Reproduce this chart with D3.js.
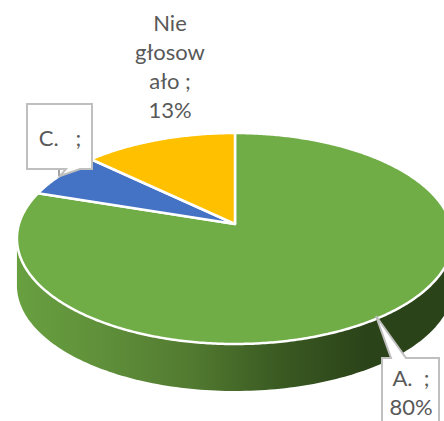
<!DOCTYPE html>
<html>
<head>
<meta charset="utf-8">
<script src="https://cdn.jsdelivr.net/npm/d3@7"></script>
<style>
  html, body { margin: 0; padding: 0; background: #fff; overflow: hidden; }
  text { font-family: Lato, sans-serif; font-size: 22px; fill: #595959; text-anchor: middle; }
</style>
</head>
<body>
<script>
const categories = ["A.", "C.", "Nie głosowało"];
const values = [80, 7, 13];
const colors = ["#70ad47", "#4472c4", "#ffc000"];
const wallStops = ["#68a040", "#5f8f3a", "#527a30", "#3a5a22", "#2b4319", "#2b4319"];

const width = 444;
const height = 421;
const apex = { x: 235, y: 224 };
const tilt = 0.1374;
const depth = 47;

const svg = d3.select("body").append("svg")
  .attr("width", width)
  .attr("height", height);

// unit disc -> screen, the disc leans back so the top is foreshortened
const xScale = d3.scaleLinear().domain([-1, 1]).range([apex.x - 216, apex.x + 216]);
const yScale = d3.scaleLinear().domain([-1, 1]).range([apex.y + 103.5, apex.y - 103.5]);
const project = (angle, r = 1) => {
  const u = r * Math.sin(angle);
  const v = r * Math.cos(angle);
  const w = 1 + tilt * v;
  return [xScale(u / w), yScale(v / w)];
};

const pie = d3.pie().sort(null).value(d => d)(values);
const line = d3.line();

// side wall
const rim = d3.range(0, 2 * Math.PI, 0.02).map(a => project(a));
const wall = d3.polygonHull(rim.concat(rim.map(p => [p[0], p[1] + depth])));

const grad = svg.append("defs").append("linearGradient")
  .attr("id", "wall")
  .attr("gradientUnits", "userSpaceOnUse")
  .attr("x1", 17).attr("x2", 453).attr("y1", 0).attr("y2", 0);
wallStops.forEach((c, i) => {
  grad.append("stop")
    .attr("offset", i / (wallStops.length - 1))
    .attr("stop-color", c);
});

svg.append("path")
  .attr("d", line(wall) + "Z")
  .attr("fill", "url(#wall)");

// top face
pie.forEach((d, i) => {
  const pts = d3.range(d.startAngle, d.endAngle, 0.01).map(a => project(a));
  pts.push(project(d.endAngle));
  pts.unshift([apex.x, apex.y]);
  svg.append("path")
    .attr("d", line(pts) + "Z")
    .attr("fill", colors[i])
    .attr("stroke", "#fff")
    .attr("stroke-width", 2.5)
    .attr("stroke-linejoin", "round");
});

// label without callout
const topLabel = ["Nie", "głosow", "ało ;", "13%"];
svg.append("g").selectAll("text")
  .data(topLabel)
  .join("text")
  .attr("x", 170)
  .attr("y", (d, i) => 31 + i * 29)
  .text(d => d);

// callout C
svg.append("line")
  .attr("x1", 59).attr("y1", 169).attr("x2", 59).attr("y2", 176)
  .attr("stroke", "#444").attr("stroke-width", 1);
svg.append("path")
  .attr("d", "M27,104H92V169H80L60,176L66,169H27Z")
  .attr("fill", "#fff")
  .attr("stroke", "#bfbfbf")
  .attr("stroke-width", 2);
svg.append("text").attr("x", 60).attr("y", 146).attr("xml:space", "preserve").text("C.   ;");

// callout A
svg.append("path")
  .attr("d", "M382,430V358H391L376,316L406,358H439V430Z")
  .attr("fill", "#fff")
  .attr("stroke", "#bfbfbf")
  .attr("stroke-width", 2);
svg.append("text").attr("x", 411).attr("y", 386).attr("xml:space", "preserve").text("A.  ;");
svg.append("text").attr("x", 411).attr("y", 415).text("80%");
</script>
</body>
</html>
